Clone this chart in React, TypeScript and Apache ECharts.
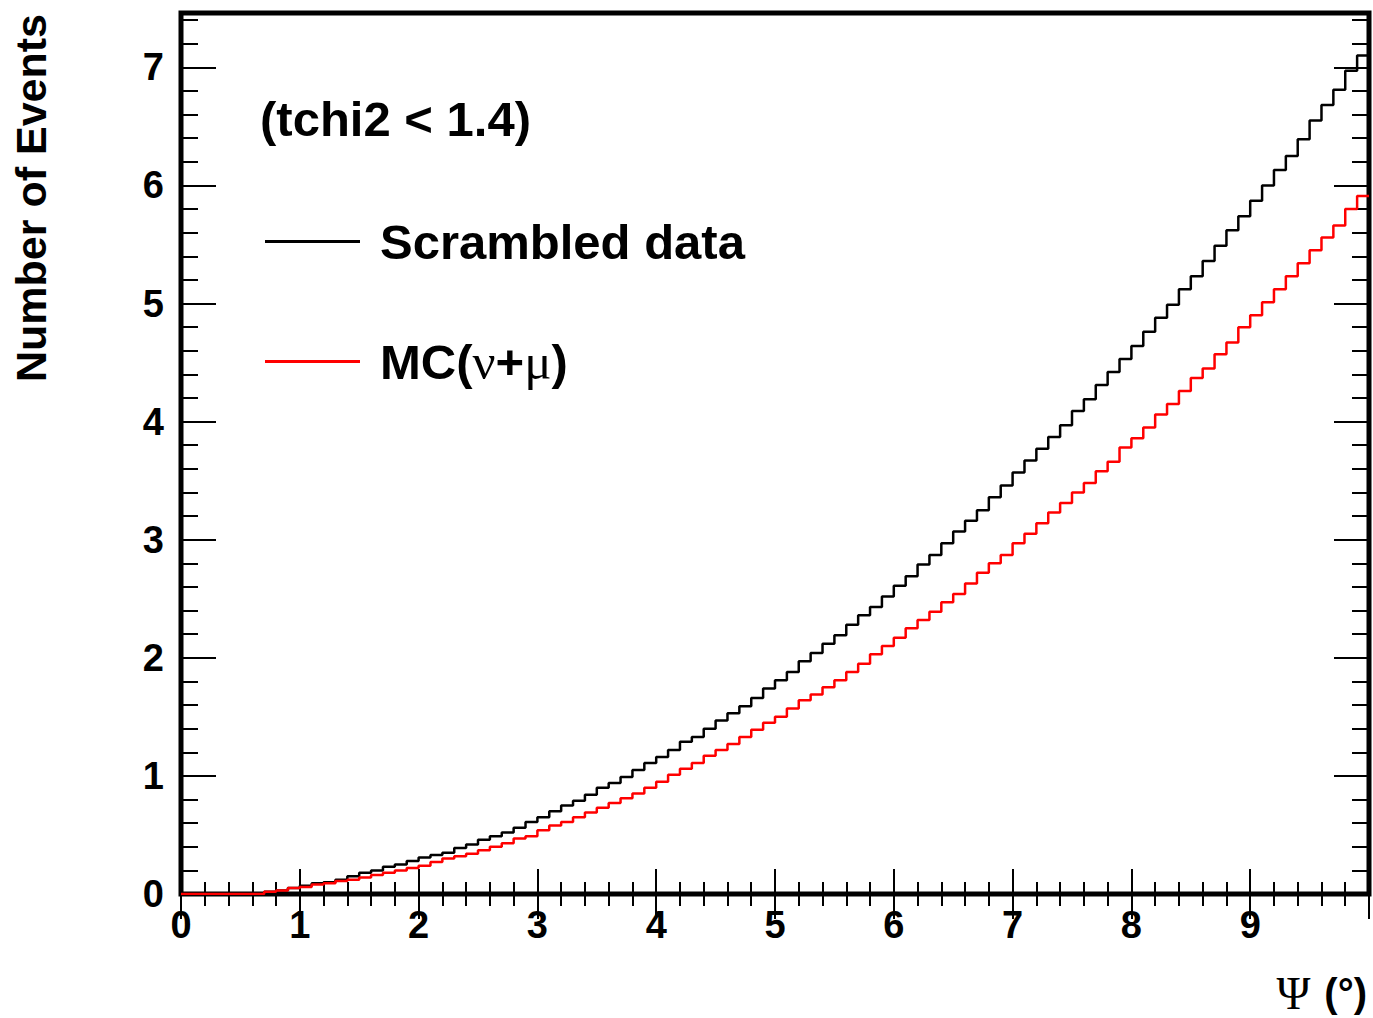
import React, { useEffect, useRef } from "react";
import * as echarts from "echarts";

// Histogram binning: 100 bins of width 0.1 degrees, from 0 to 10.
const BIN_WIDTH = 0.1;
const X_MIN = 0;
const X_MAX = 10;
const Y_MIN = 0;
const Y_MAX = 7.46;

// Number of events per bin, scrambled data.
const scrambledData = [
  0, 0, 0, 0, 0, 0, 0, 0.02, 0.03, 0.05,
  0.07, 0.09, 0.10, 0.12, 0.15, 0.18, 0.20, 0.23, 0.25, 0.28,
  0.31, 0.33, 0.35, 0.39, 0.42, 0.46, 0.49, 0.52, 0.56, 0.61,
  0.65, 0.70, 0.75, 0.79, 0.84, 0.90, 0.94, 0.99, 1.05, 1.11,
  1.16, 1.22, 1.29, 1.33, 1.40, 1.47, 1.53, 1.59, 1.66, 1.74,
  1.81, 1.88, 1.97, 2.04, 2.12, 2.19, 2.28, 2.36, 2.43, 2.52,
  2.61, 2.69, 2.79, 2.87, 2.97, 3.07, 3.16, 3.25, 3.36, 3.46,
  3.57, 3.67, 3.77, 3.87, 3.97, 4.09, 4.19, 4.31, 4.42, 4.53,
  4.64, 4.76, 4.88, 4.99, 5.12, 5.23, 5.36, 5.49, 5.62, 5.74,
  5.87, 6.00, 6.13, 6.25, 6.39, 6.55, 6.68, 6.81, 6.97, 7.10,
];

// Number of events per bin, Monte Carlo (neutrino + muon).
const mcData = [
  0, 0, 0, 0, 0, 0, 0, 0.02, 0.03, 0.05,
  0.06, 0.08, 0.09, 0.11, 0.12, 0.14, 0.16, 0.18, 0.20, 0.22,
  0.24, 0.27, 0.30, 0.32, 0.34, 0.37, 0.40, 0.43, 0.47, 0.49,
  0.54, 0.58, 0.61, 0.65, 0.69, 0.73, 0.77, 0.81, 0.85, 0.90,
  0.95, 1.01, 1.06, 1.11, 1.17, 1.22, 1.27, 1.33, 1.39, 1.45,
  1.50, 1.57, 1.64, 1.69, 1.75, 1.81, 1.88, 1.95, 2.03, 2.10,
  2.17, 2.25, 2.32, 2.39, 2.47, 2.54, 2.63, 2.72, 2.80, 2.87,
  2.97, 3.05, 3.14, 3.23, 3.31, 3.40, 3.48, 3.58, 3.66, 3.78,
  3.86, 3.95, 4.06, 4.15, 4.26, 4.37, 4.45, 4.57, 4.67, 4.80,
  4.90, 5.01, 5.12, 5.23, 5.34, 5.45, 5.56, 5.66, 5.80, 5.91,
];

const SERIES_NAMES = ["Scrambled data", "MC(ν+μ)"];
const CUT_LABEL = "(tchi2 < 1.4)";
const Y_TITLE = "Number of Events";

const SANS = '"Liberation Sans", Arial, Helvetica, sans-serif';
const SERIF = '"Liberation Serif", "DejaVu Serif", serif';

// Turn per-bin contents into step-line points on the bin edges.
function toSteps(values: number[]): [number, number][] {
  const pts: [number, number][] = values.map((v, i) => [
    +(i * BIN_WIDTH).toFixed(4),
    v,
  ]);
  pts.push([X_MAX, values[values.length - 1]]);
  return pts;
}

const tickStyle = { color: "#000", width: 2 };

function xAxisDef(position: "bottom" | "top", labels: boolean) {
  return {
    type: "value",
    position,
    min: X_MIN,
    max: X_MAX,
    interval: 1,
    axisLine: { show: false },
    splitLine: { show: false },
    minorSplitLine: { show: false },
    axisTick: { show: true, inside: true, length: 25, lineStyle: tickStyle },
    minorTick: { show: true, splitNumber: 5, length: 12, lineStyle: tickStyle },
    axisLabel: {
      show: labels,
      margin: 12,
      color: "#000",
      fontFamily: SANS,
      fontWeight: "bold",
      fontSize: 38,
      formatter: (v: number) =>
        Number.isInteger(v) && v < X_MAX ? String(v) : "",
    },
  };
}

function yAxisDef(
  position: "left" | "right",
  interval: number,
  tickLen: number,
  labels: boolean
) {
  return {
    type: "value",
    position,
    offset: 0,
    min: Y_MIN,
    max: Y_MAX,
    interval,
    axisLine: { show: false },
    splitLine: { show: false },
    axisTick: { show: true, inside: true, length: tickLen, lineStyle: tickStyle },
    axisLabel: {
      show: labels,
      margin: 17,
      color: "#000",
      fontFamily: SANS,
      fontWeight: "bold",
      fontSize: 38,
      formatter: (v: number) => (Number.isInteger(v) ? String(v) : ""),
    },
  };
}

const legendRich = {
  sp: { width: 15, fontSize: 49, lineHeight: 56 },
  b: {
    fontFamily: SANS,
    fontWeight: "bold",
    fontSize: 49,
    lineHeight: 56,
    color: "#000",
  },
  g: {
    fontFamily: SERIF,
    fontWeight: "normal",
    fontSize: 51,
    lineHeight: 56,
    color: "#000",
  },
};

function legendText(name: string): string {
  if (name === SERIES_NAMES[1]) {
    return "{sp| }{b|MC(}{g|ν}{b|+}{g|μ}{b|)}";
  }
  return `{sp| }{b|${name}}`;
}

export default function App() {
  const ref = useRef<HTMLDivElement>(null);

  useEffect(() => {
    if (!ref.current) return;
    const chart = echarts.init(ref.current, undefined, { renderer: "svg" });

    chart.setOption({
      animation: false,
      backgroundColor: "#fff",
      grid: {
        show: true,
        left: 181,
        top: 13,
        right: 4,
        bottom: 124,
        borderColor: "#000",
        borderWidth: 5,
        backgroundColor: "transparent",
      },
      xAxis: [xAxisDef("bottom", true), xAxisDef("top", false)],
      yAxis: [
        yAxisDef("left", 1, 35, true),
        yAxisDef("left", 0.2, 17, false),
        yAxisDef("right", 1, 35, false),
        yAxisDef("right", 0.2, 17, false),
      ],
      legend: {
        orient: "vertical",
        left: 265,
        top: 217,
        padding: 0,
        itemWidth: 95,
        itemHeight: 3,
        itemGap: 70,
        icon: "rect",
        selectedMode: false,
        data: SERIES_NAMES,
        formatter: legendText,
        textStyle: {
          fontFamily: SANS,
          fontWeight: "bold",
          fontSize: 49,
          color: "#000",
          rich: legendRich,
        },
      },
      graphic: [
        {
          type: "text",
          left: 260,
          top: 94,
          style: {
            text: CUT_LABEL,
            font: `bold 49px ${SANS}`,
            fill: "#000",
          },
        },
        {
          type: "text",
          x: 31,
          y: 14,
          rotation: Math.PI / 2,
          style: {
            text: Y_TITLE,
            font: `bold 43px ${SANS}`,
            fill: "#000",
            align: "right",
            verticalAlign: "middle",
          },
        },
        {
          type: "text",
          right: 6,
          top: 970,
          style: {
            text: "{g|Ψ}{b|(°)}",
            fill: "#000",
            rich: {
              g: {
                fontFamily: SERIF,
                fontSize: 46,
                fill: "#000",
                padding: [0, 14, 0, 0],
              },
              b: { fontFamily: SANS, fontWeight: "bold", fontSize: 40, fill: "#000" },
            },
          },
        },
      ],
      series: [
        {
          name: SERIES_NAMES[0],
          type: "line",
          step: "end",
          showSymbol: false,
          color: "#000",
          lineStyle: { color: "#000", width: 2.5 },
          data: toSteps(scrambledData),
          xAxisIndex: 0,
          yAxisIndex: 0,
        },
        {
          name: SERIES_NAMES[1],
          type: "line",
          step: "end",
          showSymbol: false,
          color: "#ff0000",
          lineStyle: { color: "#ff0000", width: 2.5 },
          data: toSteps(mcData),
          xAxisIndex: 0,
          yAxisIndex: 0,
        },
      ],
    });

    return () => chart.dispose();
  }, []);

  return (
    <div
      ref={ref}
      style={{ position: "fixed", left: 0, top: 0, width: 1373, height: 1018 }}
    />
  );
}
